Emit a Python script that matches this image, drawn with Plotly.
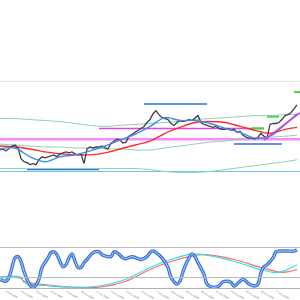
import plotly.graph_objects as go

# ---------------- data ----------------
bars = list(range(100))
close = [1.1847, 1.1848, 1.1846, 1.1849, 1.1851, 1.1852, 1.1849, 1.1838, 1.1835, 1.1834,
         1.1832, 1.1833, 1.1832, 1.1837, 1.1840, 1.1839, 1.1840, 1.1841, 1.1842, 1.1840,
         1.1843, 1.1844, 1.1845, 1.1844, 1.1845, 1.1843, 1.1842, 1.1843, 1.1833, 1.1848,
         1.1850, 1.1849, 1.1850, 1.1850, 1.1851, 1.1849, 1.1848, 1.1854, 1.1856, 1.1858,
         1.1857, 1.1854, 1.1855, 1.1861, 1.1863, 1.1865, 1.1867, 1.1869, 1.1871, 1.1875,
         1.1878, 1.1884, 1.1887, 1.1883, 1.1880, 1.1879, 1.1878, 1.1874, 1.1872, 1.1875,
         1.1877, 1.1876, 1.1877, 1.1878, 1.1877, 1.1880, 1.1882, 1.1875, 1.1873, 1.1872,
         1.1871, 1.1870, 1.1871, 1.1869, 1.1868, 1.1868, 1.1869, 1.1867, 1.1868, 1.1865,
         1.1866, 1.1862, 1.1860, 1.1859, 1.1859, 1.1858, 1.1860, 1.1864, 1.1861, 1.1859,
         1.1873, 1.1874, 1.1874, 1.1875, 1.1878, 1.1882, 1.1883, 1.1885, 1.1889, 1.1893]

ma_bars = [0, 5, 10, 15, 20, 25, 30, 35, 40, 45, 50, 55, 60, 65, 70, 75, 80, 85, 90, 95, 99]
ma_fast = [1.1848, 1.1849, 1.1840, 1.1835, 1.1840, 1.1842, 1.1846, 1.1851, 1.1857, 1.1863,
           1.1871, 1.1880, 1.1877, 1.1877, 1.1874, 1.1869, 1.1865, 1.1859, 1.1861, 1.1873, 1.1884]
ma_slow = [1.1851, 1.1850, 1.1848, 1.1845, 1.1843, 1.1842, 1.1842, 1.1844, 1.1848, 1.1852,
           1.1856, 1.1864, 1.1870, 1.1875, 1.1876, 1.1875, 1.1871, 1.1867, 1.1864, 1.1868, 1.1870]
ma_long_a = [1.1879, 1.1879, 1.1878, 1.1877, 1.1876, 1.1874, 1.1872, 1.1871, 1.1872, 1.1873,
             1.1874, 1.1875, 1.1876, 1.1878, 1.1879, 1.1880, 1.1881, 1.1882, 1.1882, 1.1883, 1.1883]
ma_long_b = [1.1853, 1.1852, 1.1851, 1.1850, 1.1850, 1.1849, 1.1849, 1.1848, 1.1848, 1.1847,
             1.1847, 1.1849, 1.1851, 1.1853, 1.1855, 1.1856, 1.1858, 1.1859, 1.1860, 1.1861, 1.1862]
ma_long_c = [1.1828, 1.1828, 1.1828, 1.1828, 1.1828, 1.1828, 1.1828, 1.1828, 1.1828, 1.1828,
             1.1827, 1.1825, 1.1824, 1.1824, 1.1825, 1.1827, 1.1829, 1.1831, 1.1833, 1.1835, 1.1837]

# horizontal levels: price, start bar, end bar
level_price = [1.1917, 1.1894, 1.1827, 1.1853, 1.1825, 1.1858, 1.1869, 1.1881, 1.1869, 1.1906]
level_start = [0, 48, 9, 78, 0, 0, 33, 89, 84, 98]
level_end = [100, 69, 33, 94, 100, 100, 88, 93, 88, 100]
# trend line
trend_bars = [88, 100]
trend_price = [1.1857, 1.1885]

# stochastic
k_bars = [0, 2, 3, 4, 5, 6, 7, 8, 9, 10, 11, 12, 13, 14, 16, 17, 18, 19, 20, 21, 22, 23, 24, 25,
          26, 27, 28, 29, 31, 33, 34, 36, 37, 38, 39, 41, 42, 44, 46, 47, 49, 50, 51, 52, 54, 56,
          57, 59, 60, 61, 63, 64, 65, 66, 68, 69, 71, 73, 74, 76, 77, 78, 79, 81, 82, 83, 85, 86,
          87, 88, 89, 91, 92, 93, 96, 98, 99]
k_vals = [21, 16, 26, 50, 74, 77, 65, 40, 21, 6, 1, 6, 21, 50, 74, 87, 89, 82, 65, 52, 57, 74, 84, 65,
          50, 50, 62, 70, 87, 89, 82, 77, 77, 89, 87, 74, 72, 77, 72, 70, 77, 87, 91, 87, 74, 50,
          26, 9, 16, 40, 74, 84, 77, 62, 33, 9, 1, 4, 13, 16, 13, 4, 9, 21, 16, 9, 4, 9,
          38, 52, 57, 74, 89, 91, 91, 91, 94]
d_bars = [0, 7, 8, 17, 25, 33, 42, 50, 57, 64, 68, 78, 87, 91, 94, 99]
d_vals = [26, 26, 13, 4, 1, 4, 21, 50, 70, 84, 82, 65, 45, 38, 40, 57]
s_bars = [0, 7, 8, 17, 25, 33, 42, 50, 57, 67, 78, 87, 94, 99]
s_vals = [26, 23, 16, 6, 1, 1, 16, 45, 65, 82, 70, 50, 38, 45]
stoch_levels = [100, 25]

tick_bars = [2, 7, 12, 17, 22, 27, 32, 37, 42, 47, 52, 57, 62, 67, 72, 77, 82, 87, 92, 97]
tick_text = ["3 Aug 2020", "4 Aug 2020", "5 Aug 2020", "6 Aug 2020", "7 Aug 2020",
             "10 Aug 2020", "11 Aug 2020", "12 Aug 2020", "13 Aug 2020", "14 Aug 2020",
             "17 Aug 2020", "18 Aug 2020", "19 Aug 2020", "20 Aug 2020", "21 Aug 2020",
             "24 Aug 2020", "25 Aug 2020", "26 Aug 2020", "27 Aug 2020", "28 Aug 2020"]

# ---------------- styles ----------------
level_color = ["#e4e4e4", "#2f6fd8", "#2f6fd8", "#2f6fd8", "#6cc8f0", "#ff88ff", "#e048e0",
               "#33dd33", "#33dd33", "#33dd33"]
level_width = [1, 1.5, 1.5, 1.5, 1, 2.5, 1.5, 2, 2, 2]

fig = go.Figure()

for mv in [ma_long_c, ma_long_b, ma_long_a]:
    fig.add_trace(go.Scatter(x=ma_bars, y=mv, mode="lines",
                             line=dict(color="#8fd3b0", width=1, shape="spline"),
                             xaxis="x", yaxis="y", hoverinfo="skip"))

shapes = []
for p, a, b, c, w in zip(level_price, level_start, level_end, level_color, level_width):
    shapes.append(dict(type="line", xref="x", yref="y", x0=a, x1=b, y0=p, y1=p,
                       line=dict(color=c, width=w), layer="below"))
shapes.append(dict(type="line", xref="x", yref="y", x0=trend_bars[0], x1=trend_bars[1],
                   y0=trend_price[0], y1=trend_price[1], line=dict(color="#d040e0", width=1.5)))
for lv in stoch_levels:
    shapes.append(dict(type="line", xref="x2", yref="y2", x0=0, x1=100, y0=lv, y1=lv,
                       line=dict(color="#b8b8b8", width=1)))

fig.add_trace(go.Scatter(x=ma_bars, y=ma_slow, mode="lines",
                         line=dict(color="#ff2a2a", width=1.4, shape="spline"),
                         xaxis="x", yaxis="y", hoverinfo="skip"))
fig.add_trace(go.Scatter(x=bars, y=close, mode="lines", line=dict(color="#404040", width=1.3),
                         xaxis="x", yaxis="y", hoverinfo="skip"))
fig.add_trace(go.Scatter(x=ma_bars, y=ma_fast, mode="lines",
                         line=dict(color="#3d8cf0", width=1.4, shape="spline"),
                         xaxis="x", yaxis="y", hoverinfo="skip"))

# stochastic
fig.add_trace(go.Scatter(x=s_bars, y=s_vals, mode="lines",
                         line=dict(color="#ff6a6a", width=1.2, shape="spline"),
                         xaxis="x2", yaxis="y2", hoverinfo="skip"))
fig.add_trace(go.Scatter(x=d_bars, y=d_vals, mode="lines",
                         line=dict(color="#30e0e8", width=1.2, shape="spline"),
                         xaxis="x2", yaxis="y2", hoverinfo="skip"))
fig.add_trace(go.Scatter(x=k_bars, y=k_vals, mode="lines",
                         line=dict(color="#3a74d8", width=3.4, shape="spline"),
                         xaxis="x2", yaxis="y2", hoverinfo="skip"))
fig.add_trace(go.Scatter(x=k_bars, y=k_vals, mode="lines",
                         line=dict(color="#b8d0f8", width=1.0, shape="spline"),
                         xaxis="x2", yaxis="y2", hoverinfo="skip"))

fig.update_layout(
    width=300, height=300, margin=dict(l=0, r=0, t=0, b=0),
    paper_bgcolor="white", plot_bgcolor="white", showlegend=False,
    shapes=shapes,
    xaxis=dict(domain=[0, 1], range=[0, 100], visible=False, anchor="y"),
    yaxis=dict(domain=[1 - 247 / 300, 1], range=[1.1753, 1.2000], visible=False, anchor="x"),
    xaxis2=dict(domain=[0, 1], range=[0, 100], anchor="y2", showgrid=False, zeroline=False,
                showline=True, linecolor="#b0b0b0", linewidth=1,
                tickmode="array", tickvals=tick_bars, ticktext=tick_text, ticks="",
                tickfont=dict(family="DejaVu Sans", size=2.3, color="#555555")),
    yaxis2=dict(domain=[1 - 294 / 300, 1 - 249 / 300], range=[-1.2, 108.5], visible=False, anchor="x2"),
)

fig.write_html("out.html")
